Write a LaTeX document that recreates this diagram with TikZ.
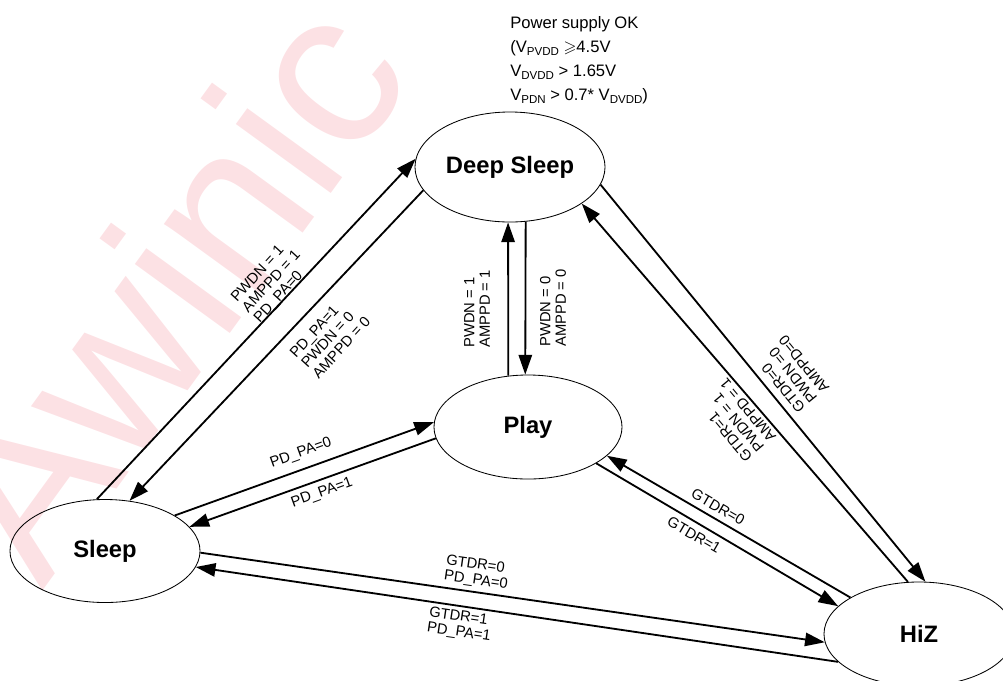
\documentclass[tikz,border=0pt]{standalone}
\usepackage{amssymb}
\usepackage{fontspec}
\setmainfont{Liberation Sans}
\usetikzlibrary{shapes.geometric,arrows.meta}

\definecolor{wmpink}{RGB}{252,225,228}
\newcommand{\sbs}[1]{\raisebox{-0.35ex}{\fontsize{8.2}{9}\selectfont #1}}

\begin{document}
\begin{tikzpicture}[x=0.025cm, y=-0.025cm,
    state/.style={draw, ellipse, line width=0.6pt, inner sep=0pt, font=\fontsize{16.9}{18}\selectfont\bfseries},
    arr/.style={line width=1.3pt, -{Triangle[length=14pt,width=9.5pt]}},
    lbl/.style={align=left, inner sep=0pt, font=\fontsize{10.5}{11}\selectfont}]
    \useasboundingbox (0,0) rectangle (1003,680);

    % watermark
    \begin{scope}
        \clip (0,0) rectangle (1003,680);
        \node[anchor=base west, rotate=54, inner sep=0pt, text=wmpink, font=\fontsize{158}{158}\selectfont] (wm) at (42,592) {Awinic};
    \end{scope}

    \node[state, minimum width=4.75cm, minimum height=2.75cm] (ds) at (510,167) {Deep Sleep};
    \node[state, minimum width=4.75cm, minimum height=2.575cm] (sl) at (105,551) {Sleep};
    \node[state, minimum width=4.7cm, minimum height=2.6cm] (pl) at (528,427) {Play};
    \node[state, minimum width=4.75cm, minimum height=2.6cm] (hz) at (919,634) {HiZ};

    \node[anchor=north west, align=left, inner sep=0pt, font=\fontsize{11.8}{17}\selectfont] (cond) at (510,16)
        {Power supply OK\\(V\sbs{PVDD} $\geqslant$4.5V\\V\sbs{DVDD} > 1.65V\\V\sbs{PDN} > 0.7* V\sbs{DVDD})};

    \foreach \a/\b in {sl.99/ds.175, ds.195/sl.64, pl.111/ds.268, ds.286/pl.93,
                       sl.27/pl.177, pl.187/sl.16, hz.152/pl.340, pl.332/hz.161,
                       sl.359/hz.185, hz.199/sl.350, ds.349/hz.83, hz.102/ds.333} {
        \draw[arr] (\a) -- (\b);
    }

    \node[lbl, rotate=47.5] (l1) at (272,282) {PWDN = 1\\AMPPD = 1\\PD\_PA=0};
    \node[lbl, rotate=47.5] (l2) at (330,337) {PD\_PA=1\\PWDN = 0\\AMPPD = 0};
    \node[lbl, rotate=90] (l3) at (477,309) {PWDN = 1\\AMPPD = 1};
    \node[lbl, rotate=90] (l4) at (553,308) {PWDN = 0\\AMPPD = 0};
    \node[lbl, rotate=19.8] (l5) at (301,453) {PD\_PA=0};
    \node[lbl, rotate=19.8] (l6) at (322,493) {PD\_PA=1};
    \node[lbl, rotate=-30] (l7) at (718,507) {GTDR=0};
    \node[lbl, rotate=-30] (l8) at (694,535) {GTDR=1};
    \node[lbl, rotate=-8.3] (l9) at (477,573) {GTDR=0\\PD\_PA=0};
    \node[lbl, rotate=-8.3] (l10) at (460,625) {GTDR=1\\PD\_PA=1};
    \node[lbl, rotate=129.2] (l11) at (792,374) {GTDR=0\\PWDN =0\\AMPPD=0};
    \node[lbl, rotate=130] (l12) at (736,420) {GTDR=1\\PWDN = 1\\AMPPD = 1};
\end{tikzpicture}
\end{document}
